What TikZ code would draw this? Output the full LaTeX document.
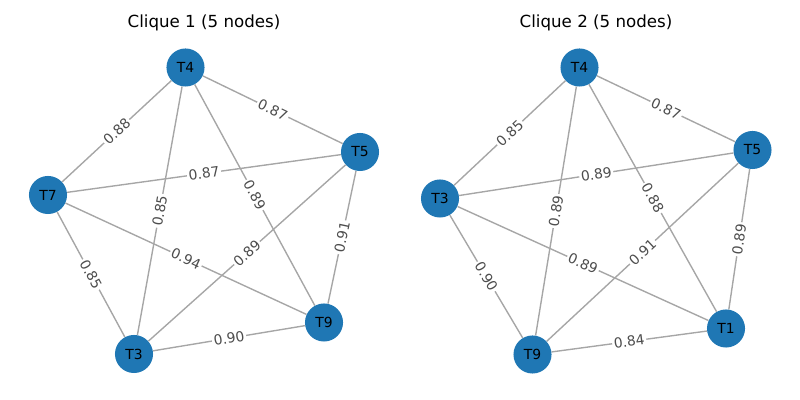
\documentclass[tikz,border=0pt]{standalone}
\usepackage{fontspec}
\setmainfont{DejaVu Sans}
\definecolor{nodeblue}{HTML}{1F77B4}
\definecolor{edgegray}{HTML}{A6A6A6}
\definecolor{labgray}{HTML}{4D4D4D}
\pgfdeclarelayer{bg}
\pgfsetlayers{bg,main}
\begin{document}
\begin{tikzpicture}[x=0.72pt,y=-0.72pt,
  vtx/.style={circle,fill=nodeblue,draw=none,minimum size=27.4pt,inner sep=0pt,font=\fontsize{10}{12}\selectfont,text=black},
  edge/.style={draw=edgegray,line width=1pt},
  wlab/.style={midway,sloped,fill=white,inner sep=1.2pt,text=labgray,font=\fontsize{10}{12}\selectfont},
  ttl/.style={font=\fontsize{12}{14}\selectfont,text=black}]
\useasboundingbox (0,0) rectangle (800,400);
\node[ttl] (t1) at (204,23) {Clique 1 (5 nodes)};
\node[ttl] (t2) at (596,23) {Clique 2 (5 nodes)};
% left clique
\node[vtx] (nT4) at (185.5,67.5) {T4};
\node[vtx] (nT5) at (360,152) {T5};
\node[vtx] (nT7) at (48,195) {T7};
\node[vtx] (nT3) at (134,354) {T3};
\node[vtx] (nT9) at (324,322.5) {T9};
% right clique
\node[vtx] (mT4) at (579.5,67.5) {T4};
\node[vtx] (mT5) at (752.5,150) {T5};
\node[vtx] (mT3) at (440,198.5) {T3};
\node[vtx] (mT9) at (532.5,354.5) {T9};
\node[vtx] (mT1) at (726,328.5) {T1};
\begin{pgfonlayer}{bg}
\draw[edge] (nT4) -- node[wlab]{0.87} (nT5);
\draw[edge] (nT7) -- node[wlab]{0.88} (nT4);
\draw[edge] (nT3) -- node[wlab]{0.85} (nT4);
\draw[edge] (nT4) -- node[wlab]{0.89} (nT9);
\draw[edge] (nT7) -- node[wlab]{0.87} (nT5);
\draw[edge] (nT3) -- node[wlab]{0.89} (nT5);
\draw[edge] (nT9) -- node[wlab]{0.91} (nT5);
\draw[edge] (nT7) -- node[wlab]{0.85} (nT3);
\draw[edge] (nT7) -- node[wlab]{0.94} (nT9);
\draw[edge] (nT3) -- node[wlab]{0.90} (nT9);
\draw[edge] (mT4) -- node[wlab]{0.87} (mT5);
\draw[edge] (mT3) -- node[wlab]{0.85} (mT4);
\draw[edge] (mT9) -- node[wlab]{0.89} (mT4);
\draw[edge] (mT4) -- node[wlab]{0.88} (mT1);
\draw[edge] (mT3) -- node[wlab]{0.89} (mT5);
\draw[edge] (mT9) -- node[wlab]{0.91} (mT5);
\draw[edge] (mT1) -- node[wlab]{0.89} (mT5);
\draw[edge] (mT3) -- node[wlab]{0.90} (mT9);
\draw[edge] (mT3) -- node[wlab]{0.89} (mT1);
\draw[edge] (mT9) -- node[wlab]{0.84} (mT1);
\end{pgfonlayer}
\end{tikzpicture}
\end{document}
